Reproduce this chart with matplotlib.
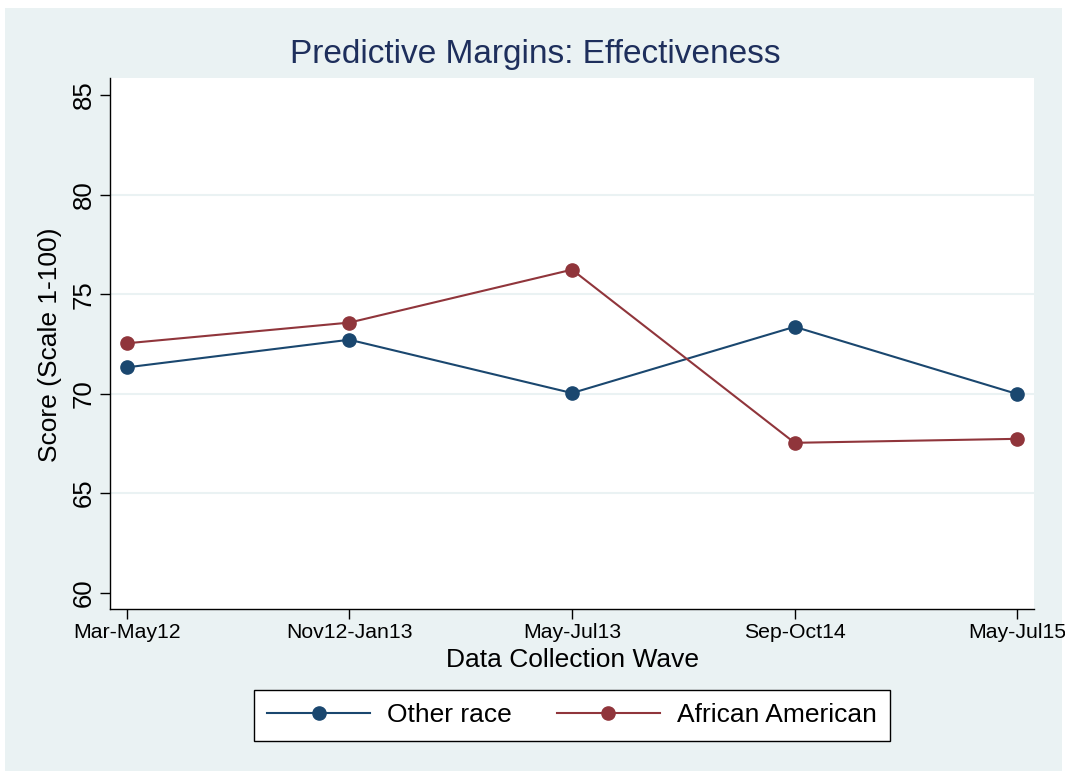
import matplotlib.pyplot as plt
from matplotlib.patches import Rectangle

plt.rcParams["font.family"] = ["Liberation Sans", "DejaVu Sans"]

waves = ["Mar-May12", "Nov12-Jan13", "May-Jul13", "Sep-Oct14", "May-Jul15"]
other_race = [71.32, 72.71, 70.03, 73.36, 69.98]
african_american = [72.53, 73.57, 76.23, 67.53, 67.73]
y_ticks = [60, 65, 70, 75, 80, 85]

bg = "#eaf2f3"
navy = "#1a476f"
maroon = "#90353b"

W, H = 1065, 771
fig = plt.figure(figsize=(W / 100, H / 100), dpi=100, facecolor="white")
fig.patches.append(
    Rectangle((5 / W, 0), 1057 / W, 763 / H, transform=fig.transFigure,
              fc=bg, ec="none", zorder=-10)
)

ax = fig.add_axes((110 / W, 162 / H, 924 / W, 531 / H))
x = list(range(1, len(waves) + 1))

ax.plot(x, other_race, color=navy, lw=1.5, marker="o", ms=9.5, label="Other race",
        zorder=3, clip_on=False)
ax.plot(x, african_american, color=maroon, lw=1.5, marker="o", ms=9.5,
        label="African American", zorder=3, clip_on=False)

ax.set_xlim(0.925, 5.075)
ax.set_ylim(59.18, 85.86)
ax.set_xticks(x)
ax.set_xticklabels(waves, fontsize=15.3)
ax.set_yticks(y_ticks)
ax.set_yticklabels([str(v) for v in y_ticks], fontsize=18.5, rotation=90, va="center")
for v in y_ticks[1:-1]:
    ax.axhline(v, color=bg, lw=1.5, zorder=1)

for side in ["top", "right"]:
    ax.spines[side].set_visible(False)
for side in ["left", "bottom"]:
    ax.spines[side].set_linewidth(1.0)
ax.tick_params(axis="both", length=7, width=1.0, pad=3)

# axis titles placed by pixel centre
fig.text(572 / W, 1 - 660 / H, "Data Collection Wave", ha="center", va="center",
         fontsize=19)
fig.text(50 / W, 1 - 345 / H, "Score (Scale 1-100)", ha="center", va="center",
         rotation=90, fontsize=19)

fig.text(535 / W, 1 - 55 / H, "Predictive Margins: Effectiveness", ha="center",
         va="center", fontsize=24, color="#1e2f5c")

leg = fig.legend(loc="center", bbox_to_anchor=(572 / W, 1 - 715.5 / H), ncol=2,
                 fontsize=19, handlelength=3.9, handletextpad=0.65, columnspacing=1.7,
                 borderpad=0.5, borderaxespad=0, fancybox=False, framealpha=1,
                 edgecolor="black")
leg.get_frame().set_linewidth(1.0)

fig.savefig("out.png", dpi=100)
